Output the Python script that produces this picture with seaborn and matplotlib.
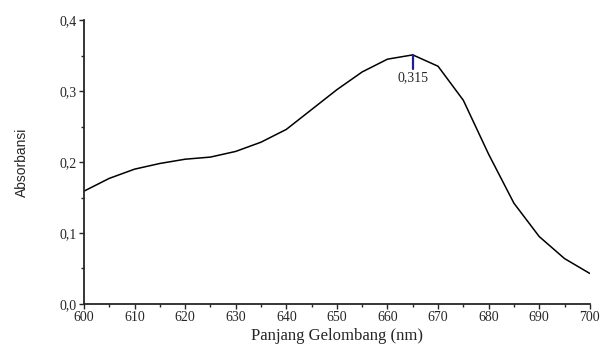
import matplotlib
matplotlib.use("Agg")
import matplotlib.pyplot as plt
import matplotlib.ticker as mticker
import seaborn as sns
import pandas as pd

wavelength = [600, 605, 610, 615, 620, 625, 630, 635, 640, 645, 650, 655, 660, 665,
              670, 675, 680, 685, 690, 695, 700]
absorbance = [0.159, 0.177, 0.190, 0.198, 0.204, 0.207, 0.215, 0.228, 0.246, 0.274,
              0.302, 0.327, 0.345, 0.351, 0.335, 0.287, 0.211, 0.142, 0.095, 0.064, 0.043]
peak_x = 665
peak_y = 0.351
peak_label = "0,315"

sns.set_theme(style="ticks")
plt.rcParams['font.family'] = ['Liberation Serif', 'DejaVu Serif']

df = pd.DataFrame({"wl": wavelength, "abs": absorbance})
fig = plt.figure(figsize=(6.0, 3.47), dpi=100)
ax = fig.add_axes([0.14, 0.124, 0.843, 0.818])
sns.lineplot(data=df, x="wl", y="abs", ax=ax, color="black", linewidth=1.1)

ax.plot([peak_x, peak_x], [peak_y, peak_y - 0.02], color="#1f1f8f", linewidth=1.6)
ax.text(peak_x, peak_y - 0.023, peak_label, ha="center", va="top", fontsize=10)

ax.set_xlim(600, 700)
ax.set_ylim(0, 0.4)
ax.xaxis.set_major_locator(mticker.MultipleLocator(10))
ax.xaxis.set_minor_locator(mticker.MultipleLocator(5))
ax.yaxis.set_major_locator(mticker.MultipleLocator(0.1))
ax.yaxis.set_minor_locator(mticker.MultipleLocator(0.05))
ax.yaxis.set_major_formatter(mticker.FuncFormatter(lambda v, p: f"{v:.1f}".replace(".", ",")))
ax.tick_params(axis="both", which="major", length=3.5, width=1, labelsize=10, direction="out", pad=1.5)
ax.tick_params(axis="both", which="minor", length=2.5, width=1, direction="out")
for s in ["top", "right"]:
    ax.spines[s].set_visible(False)
for s in ["left", "bottom"]:
    ax.spines[s].set_linewidth(1.3)

ax.set_xlabel("Panjang Gelombang (nm)", fontsize=12, labelpad=3)
ax.set_ylabel("Absorbansi", fontsize=10, labelpad=22,
              family=['Liberation Sans Narrow', 'Liberation Sans', 'DejaVu Sans'])

fig.savefig("out.png", dpi=100)
